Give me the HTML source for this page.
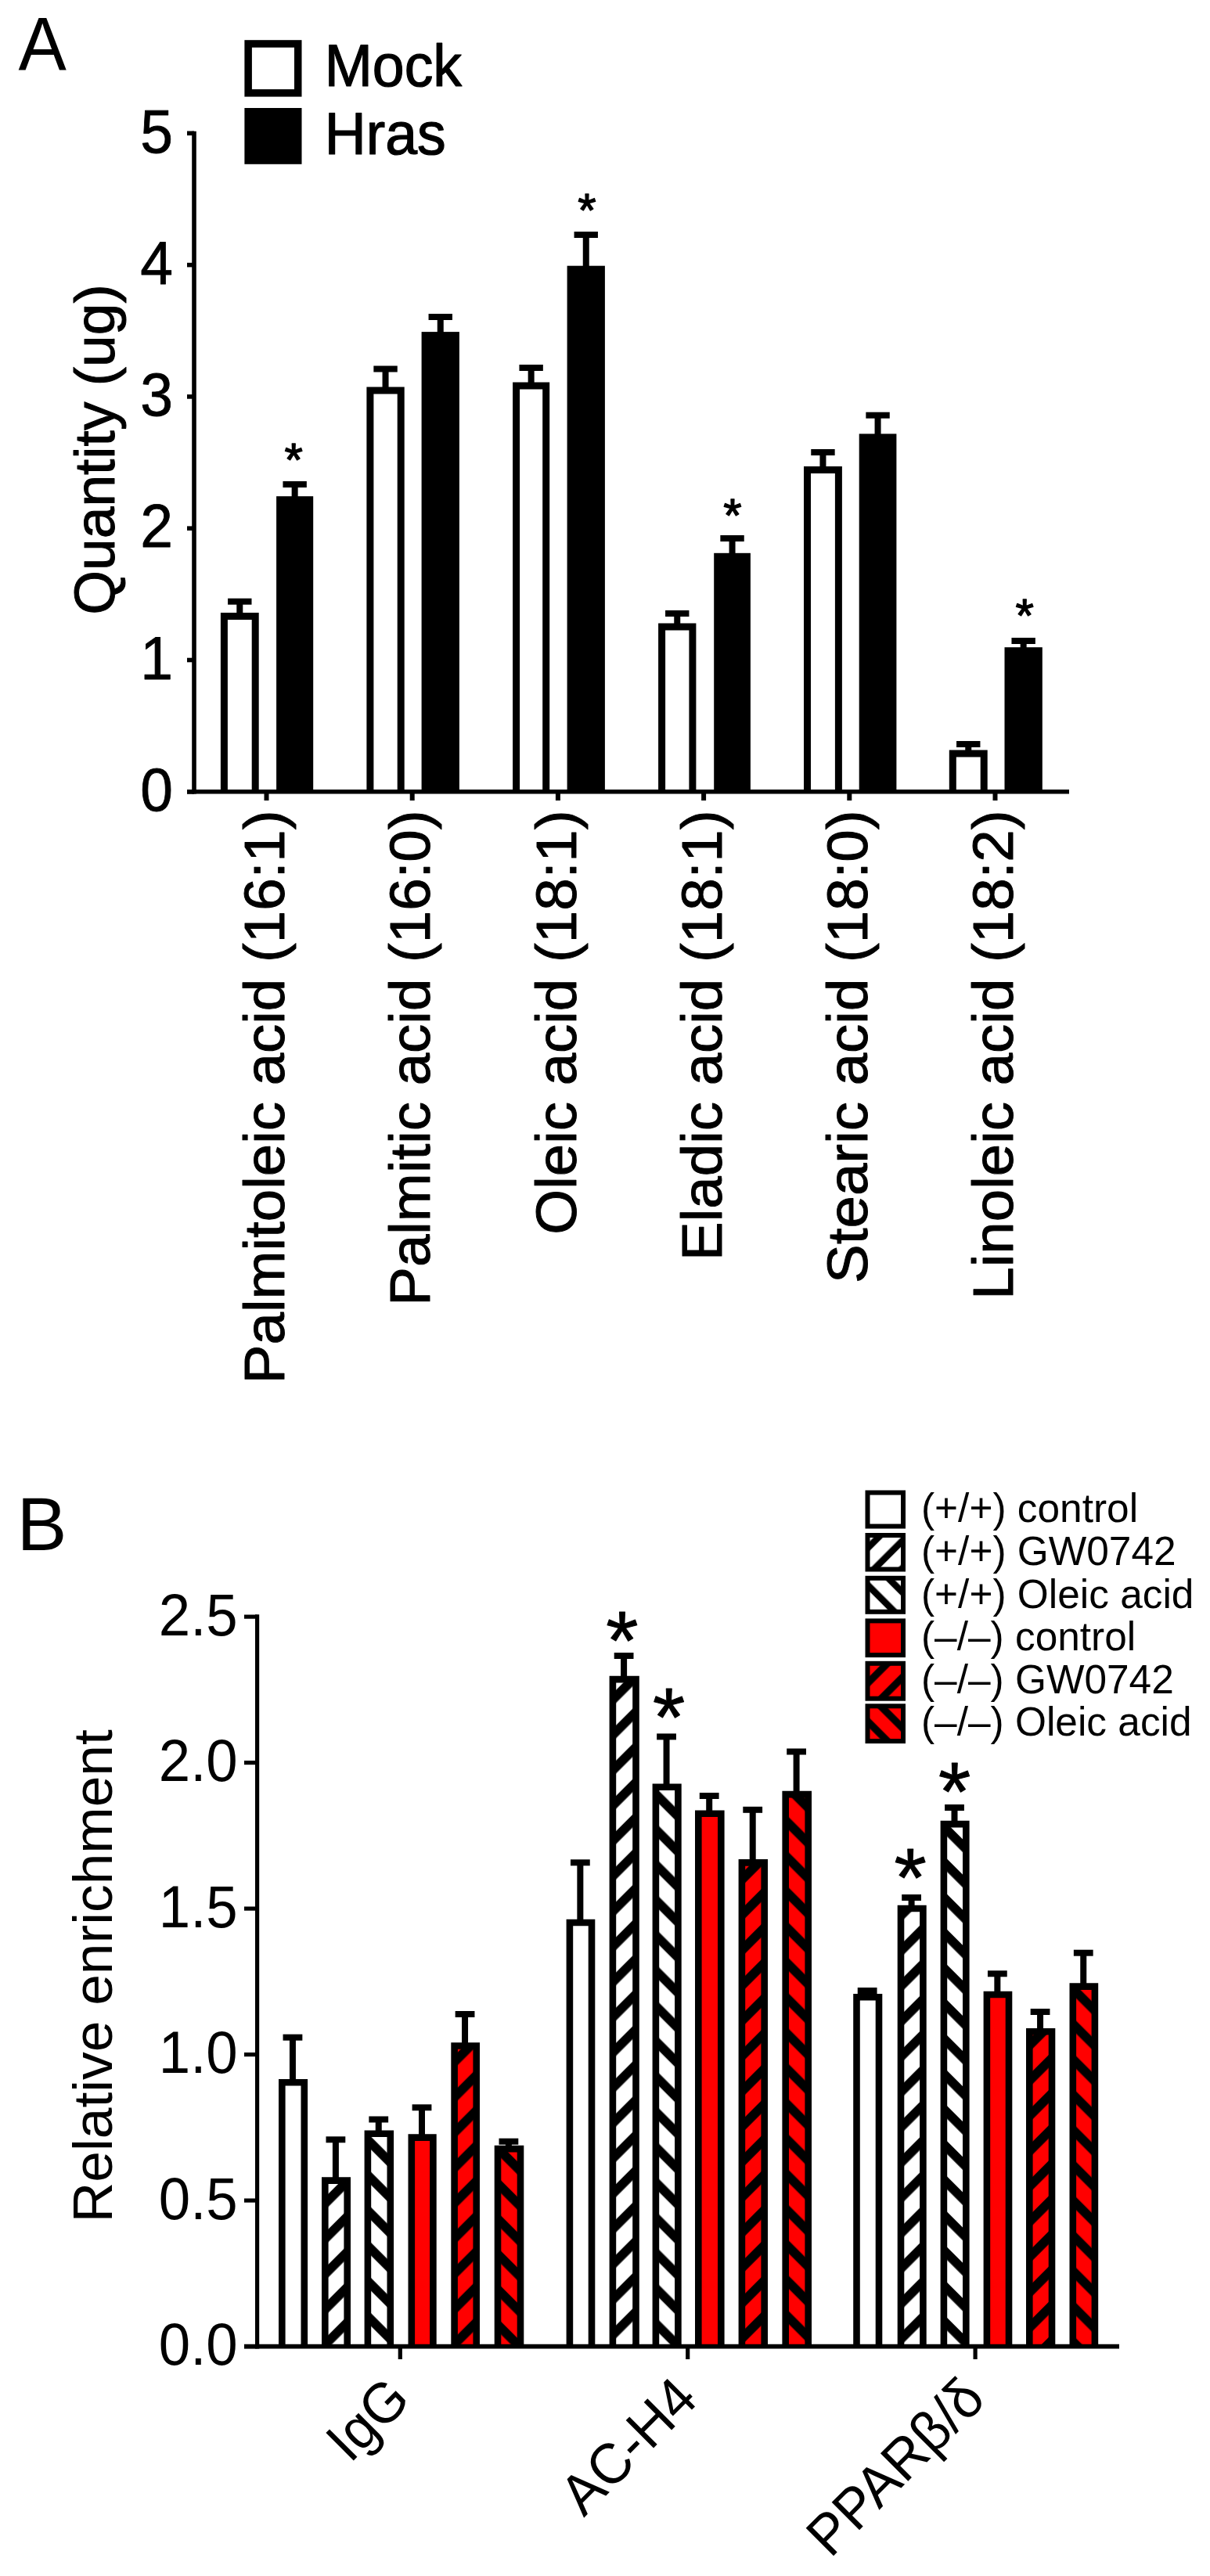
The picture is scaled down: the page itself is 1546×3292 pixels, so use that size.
<!DOCTYPE html><html><head><meta charset="utf-8"><title>Figure</title>
<style>html,body{margin:0;padding:0;background:#fff;}svg{display:block;}text{font-family:"Liberation Sans", Arial, sans-serif;fill:#000;}</style></head><body>
<svg width="1546" height="3292" viewBox="0 0 1546 3292">
<defs>
<pattern id="l2" patternUnits="userSpaceOnUse" width="24.75" height="24.75" patternTransform="rotate(45)"><rect x="0" y="0" width="24.75" height="24.75" fill="#fff"/><rect x="0.57" y="0" width="8.49" height="24.75" fill="#000"/><rect x="-24.18" y="0" width="8.49" height="24.75" fill="#000"/></pattern>
<pattern id="l3" patternUnits="userSpaceOnUse" width="24.75" height="24.75" patternTransform="rotate(-45)"><rect x="0" y="0" width="24.75" height="24.75" fill="#fff"/><rect x="15.7" y="0" width="8.49" height="24.75" fill="#000"/><rect x="-9.05" y="0" width="8.49" height="24.75" fill="#000"/></pattern>
<pattern id="l5" patternUnits="userSpaceOnUse" width="26.16" height="26.16" patternTransform="rotate(45)"><rect x="0" y="0" width="26.16" height="26.16" fill="#f00"/><rect x="24.4" y="0" width="9.19" height="26.16" fill="#000"/><rect x="-1.77" y="0" width="9.19" height="26.16" fill="#000"/></pattern>
<pattern id="l6" patternUnits="userSpaceOnUse" width="25.46" height="25.46" patternTransform="rotate(-45)"><rect x="0" y="0" width="25.46" height="25.46" fill="#f00"/><rect x="13.08" y="0" width="9.19" height="25.46" fill="#000"/><rect x="-12.37" y="0" width="9.19" height="25.46" fill="#000"/></pattern>
</defs>
<text transform="translate(23.6 88.5) scale(1 1.04)" font-size="92" text-anchor="start">A</text>
<rect x="317.15" y="55.95" width="63.6" height="62.9" fill="#fff" stroke="#000" stroke-width="9.5"/>
<rect x="312.4" y="138" width="73.1" height="71.8" fill="#000"/>
<text transform="translate(414.7 109.6) scale(1 1.04)" font-size="73.4" text-anchor="start" stroke="#000" stroke-width="1.2" stroke-linejoin="round">Mock</text>
<text transform="translate(414.8 196.6) scale(1 1.04)" font-size="73.4" text-anchor="start" stroke="#000" stroke-width="1.2" stroke-linejoin="round">Hras</text>
<line x1="248" y1="167.8" x2="248" y2="1014.6" stroke="#000" stroke-width="5.6" stroke-linecap="butt"/>
<line x1="239" y1="1011.8" x2="248" y2="1011.8" stroke="#000" stroke-width="5.6" stroke-linecap="butt"/>
<text transform="translate(221 1036) scale(1 1.04)" font-size="75" text-anchor="end" stroke="#000" stroke-width="0.8" stroke-linejoin="round">0</text>
<line x1="239" y1="843.5" x2="248" y2="843.5" stroke="#000" stroke-width="5.6" stroke-linecap="butt"/>
<text transform="translate(221 867.7) scale(1 1.04)" font-size="75" text-anchor="end" stroke="#000" stroke-width="0.8" stroke-linejoin="round">1</text>
<line x1="239" y1="675.2" x2="248" y2="675.2" stroke="#000" stroke-width="5.6" stroke-linecap="butt"/>
<text transform="translate(221 699.4) scale(1 1.04)" font-size="75" text-anchor="end" stroke="#000" stroke-width="0.8" stroke-linejoin="round">2</text>
<line x1="239" y1="506.9" x2="248" y2="506.9" stroke="#000" stroke-width="5.6" stroke-linecap="butt"/>
<text transform="translate(221 531.1) scale(1 1.04)" font-size="75" text-anchor="end" stroke="#000" stroke-width="0.8" stroke-linejoin="round">3</text>
<line x1="239" y1="338.6" x2="248" y2="338.6" stroke="#000" stroke-width="5.6" stroke-linecap="butt"/>
<text transform="translate(221 362.8) scale(1 1.04)" font-size="75" text-anchor="end" stroke="#000" stroke-width="0.8" stroke-linejoin="round">4</text>
<line x1="239" y1="170.3" x2="248" y2="170.3" stroke="#000" stroke-width="5.6" stroke-linecap="butt"/>
<text transform="translate(221 194.5) scale(1 1.04)" font-size="75" text-anchor="end" stroke="#000" stroke-width="0.8" stroke-linejoin="round">5</text>
<text transform="translate(145.8 574.5) rotate(-90)" font-size="73.1" text-anchor="middle" stroke="#000" stroke-width="1" stroke-linejoin="round">Quantity (ug)</text>
<line x1="306.3" y1="768.7" x2="306.3" y2="787" stroke="#000" stroke-width="8" stroke-linecap="butt"/>
<line x1="291.1" y1="768.7" x2="321.5" y2="768.7" stroke="#000" stroke-width="8" stroke-linecap="butt"/>
<line x1="376.65" y1="619" x2="376.65" y2="638.2" stroke="#000" stroke-width="8" stroke-linecap="butt"/>
<line x1="361.45" y1="619" x2="391.85" y2="619" stroke="#000" stroke-width="8" stroke-linecap="butt"/>
<rect x="286.4" y="787.5" width="39.8" height="224.3" fill="#fff"/>
<path d="M286.4 1011.8V787.5H326.2V1011.8" fill="none" stroke="#000" stroke-width="9" stroke-linejoin="miter"/>
<rect x="353.1" y="634.2" width="47.1" height="377.6" fill="#000"/>
<text transform="translate(375.1 608.08)" font-size="60" text-anchor="middle" stroke="#000" stroke-width="1.4" stroke-linejoin="round">*</text>
<line x1="340.5" y1="1011.8" x2="340.5" y2="1023" stroke="#000" stroke-width="6" stroke-linecap="butt"/>
<text transform="translate(363.2 1035.4) rotate(-90) scale(1 0.98)" font-size="74.5" text-anchor="end" stroke="#000" stroke-width="1" stroke-linejoin="round">Palmitoleic acid (16:1)</text>
<line x1="492.55" y1="471.5" x2="492.55" y2="498.4" stroke="#000" stroke-width="8" stroke-linecap="butt"/>
<line x1="477.35" y1="471.5" x2="507.75" y2="471.5" stroke="#000" stroke-width="8" stroke-linecap="butt"/>
<line x1="562.75" y1="405" x2="562.75" y2="428.1" stroke="#000" stroke-width="8" stroke-linecap="butt"/>
<line x1="547.55" y1="405" x2="577.95" y2="405" stroke="#000" stroke-width="8" stroke-linecap="butt"/>
<rect x="472.9" y="498.9" width="39.3" height="512.9" fill="#fff"/>
<path d="M472.9 1011.8V498.9H512.2V1011.8" fill="none" stroke="#000" stroke-width="9" stroke-linejoin="miter"/>
<rect x="538.6" y="424.1" width="48.3" height="587.7" fill="#000"/>
<line x1="526.7" y1="1011.8" x2="526.7" y2="1023" stroke="#000" stroke-width="6" stroke-linecap="butt"/>
<text transform="translate(549.4 1035.4) rotate(-90) scale(1 0.98)" font-size="74.5" text-anchor="end" stroke="#000" stroke-width="1" stroke-linejoin="round">Palmitic acid (16:0)</text>
<line x1="678.65" y1="470" x2="678.65" y2="492.6" stroke="#000" stroke-width="8" stroke-linecap="butt"/>
<line x1="663.45" y1="470" x2="693.85" y2="470" stroke="#000" stroke-width="8" stroke-linecap="butt"/>
<line x1="748.75" y1="300" x2="748.75" y2="343.7" stroke="#000" stroke-width="8" stroke-linecap="butt"/>
<line x1="733.55" y1="300" x2="763.95" y2="300" stroke="#000" stroke-width="8" stroke-linecap="butt"/>
<rect x="659.6" y="493.1" width="38.1" height="518.7" fill="#fff"/>
<path d="M659.6 1011.8V493.1H697.7V1011.8" fill="none" stroke="#000" stroke-width="9" stroke-linejoin="miter"/>
<rect x="724.6" y="339.7" width="48.3" height="672.1" fill="#000"/>
<text transform="translate(749.8 289.08)" font-size="60" text-anchor="middle" stroke="#000" stroke-width="1.4" stroke-linejoin="round">*</text>
<line x1="712.9" y1="1011.8" x2="712.9" y2="1023" stroke="#000" stroke-width="6" stroke-linecap="butt"/>
<text transform="translate(735.6 1035.4) rotate(-90) scale(1 0.98)" font-size="74.5" text-anchor="end" stroke="#000" stroke-width="1" stroke-linejoin="round">Oleic acid (18:1)</text>
<line x1="865.25" y1="784" x2="865.25" y2="800.5" stroke="#000" stroke-width="8" stroke-linecap="butt"/>
<line x1="850.05" y1="784" x2="880.45" y2="784" stroke="#000" stroke-width="8" stroke-linecap="butt"/>
<line x1="935.55" y1="688" x2="935.55" y2="710.8" stroke="#000" stroke-width="8" stroke-linecap="butt"/>
<line x1="920.35" y1="688" x2="950.75" y2="688" stroke="#000" stroke-width="8" stroke-linecap="butt"/>
<rect x="845.6" y="801" width="39.3" height="210.8" fill="#fff"/>
<path d="M845.6 1011.8V801H884.9V1011.8" fill="none" stroke="#000" stroke-width="9" stroke-linejoin="miter"/>
<rect x="912.2" y="706.8" width="46.7" height="305" fill="#000"/>
<text transform="translate(935.9 679.08)" font-size="60" text-anchor="middle" stroke="#000" stroke-width="1.4" stroke-linejoin="round">*</text>
<line x1="899.1" y1="1011.8" x2="899.1" y2="1023" stroke="#000" stroke-width="6" stroke-linecap="butt"/>
<text transform="translate(921.8 1035.4) rotate(-90) scale(1 0.98)" font-size="74.5" text-anchor="end" stroke="#000" stroke-width="1" stroke-linejoin="round">Eladic acid (18:1)</text>
<line x1="1051.45" y1="578" x2="1051.45" y2="600" stroke="#000" stroke-width="8" stroke-linecap="butt"/>
<line x1="1036.25" y1="578" x2="1066.65" y2="578" stroke="#000" stroke-width="8" stroke-linecap="butt"/>
<line x1="1121.55" y1="530.7" x2="1121.55" y2="558.4" stroke="#000" stroke-width="8" stroke-linecap="butt"/>
<line x1="1106.35" y1="530.7" x2="1136.75" y2="530.7" stroke="#000" stroke-width="8" stroke-linecap="butt"/>
<rect x="1031.5" y="600.5" width="39.9" height="411.3" fill="#fff"/>
<path d="M1031.5 1011.8V600.5H1071.4V1011.8" fill="none" stroke="#000" stroke-width="9" stroke-linejoin="miter"/>
<rect x="1097.7" y="554.4" width="47.7" height="457.4" fill="#000"/>
<line x1="1085.3" y1="1011.8" x2="1085.3" y2="1023" stroke="#000" stroke-width="6" stroke-linecap="butt"/>
<text transform="translate(1108 1035.4) rotate(-90) scale(1 0.98)" font-size="74.5" text-anchor="end" stroke="#000" stroke-width="1" stroke-linejoin="round">Stearic acid (18:0)</text>
<line x1="1237.25" y1="951" x2="1237.25" y2="962.4" stroke="#000" stroke-width="8" stroke-linecap="butt"/>
<line x1="1222.05" y1="951" x2="1252.45" y2="951" stroke="#000" stroke-width="8" stroke-linecap="butt"/>
<line x1="1307.65" y1="819" x2="1307.65" y2="831.2" stroke="#000" stroke-width="8" stroke-linecap="butt"/>
<line x1="1292.45" y1="819" x2="1322.85" y2="819" stroke="#000" stroke-width="8" stroke-linecap="butt"/>
<rect x="1217.3" y="962.9" width="39.9" height="48.9" fill="#fff"/>
<path d="M1217.3 1011.8V962.9H1257.2V1011.8" fill="none" stroke="#000" stroke-width="9" stroke-linejoin="miter"/>
<rect x="1283.5" y="827.2" width="48.3" height="184.6" fill="#000"/>
<text transform="translate(1309.2 807.08)" font-size="60" text-anchor="middle" stroke="#000" stroke-width="1.4" stroke-linejoin="round">*</text>
<line x1="1271.5" y1="1011.8" x2="1271.5" y2="1023" stroke="#000" stroke-width="6" stroke-linecap="butt"/>
<text transform="translate(1294.2 1035.4) rotate(-90) scale(1 0.98)" font-size="74.5" text-anchor="end" stroke="#000" stroke-width="1" stroke-linejoin="round">Linoleic acid (18:2)</text>
<line x1="239" y1="1011.8" x2="1366" y2="1011.8" stroke="#000" stroke-width="5.6" stroke-linecap="butt"/>
<text transform="translate(21.5 1980.6)" font-size="96" text-anchor="start">B</text>
<line x1="328.6" y1="2063.2" x2="328.6" y2="3001.4" stroke="#000" stroke-width="5.2" stroke-linecap="butt"/>
<line x1="312" y1="2998.6" x2="328.6" y2="2998.6" stroke="#000" stroke-width="5.2" stroke-linecap="butt"/>
<text transform="translate(303.7 3022.3) scale(1 1.04)" font-size="72.6" text-anchor="end">0.0</text>
<line x1="312" y1="2812.1" x2="328.6" y2="2812.1" stroke="#000" stroke-width="5.2" stroke-linecap="butt"/>
<text transform="translate(303.7 2835.8) scale(1 1.04)" font-size="72.6" text-anchor="end">0.5</text>
<line x1="312" y1="2625.6" x2="328.6" y2="2625.6" stroke="#000" stroke-width="5.2" stroke-linecap="butt"/>
<text transform="translate(303.7 2649.3) scale(1 1.04)" font-size="72.6" text-anchor="end">1.0</text>
<line x1="312" y1="2439.1" x2="328.6" y2="2439.1" stroke="#000" stroke-width="5.2" stroke-linecap="butt"/>
<text transform="translate(303.7 2462.8) scale(1 1.04)" font-size="72.6" text-anchor="end">1.5</text>
<line x1="312" y1="2252.6" x2="328.6" y2="2252.6" stroke="#000" stroke-width="5.2" stroke-linecap="butt"/>
<text transform="translate(303.7 2276.3) scale(1 1.04)" font-size="72.6" text-anchor="end">2.0</text>
<line x1="312" y1="2066.1" x2="328.6" y2="2066.1" stroke="#000" stroke-width="5.2" stroke-linecap="butt"/>
<text transform="translate(303.7 2089.8) scale(1 1.04)" font-size="72.6" text-anchor="end">2.5</text>
<text transform="translate(142.9 2525.2) rotate(-90)" font-size="71.3" text-anchor="middle">Relative enrichment</text>
<line x1="373.95" y1="2603.7" x2="373.95" y2="2661" stroke="#000" stroke-width="8" stroke-linecap="butt"/>
<line x1="361.55" y1="2603.7" x2="386.35" y2="2603.7" stroke="#000" stroke-width="8" stroke-linecap="butt"/>
<rect x="360.3" y="2661.3" width="28.5" height="337.3" fill="#fff"/>
<path d="M360.3 2998.6V2661.3H388.8V2998.6" fill="none" stroke="#000" stroke-width="8.6" stroke-linejoin="miter"/>
<line x1="428.9" y1="2734.3" x2="428.9" y2="2786.3" stroke="#000" stroke-width="8" stroke-linecap="butt"/>
<line x1="416.5" y1="2734.3" x2="441.3" y2="2734.3" stroke="#000" stroke-width="8" stroke-linecap="butt"/>
<defs>
<pattern id="hb01" patternUnits="userSpaceOnUse" width="31.89" height="31.89" patternTransform="rotate(45)"><rect x="0" y="0" width="31.89" height="31.89" fill="#fff"/><rect x="14.88" y="0" width="11.67" height="31.89" fill="#000"/><rect x="-17.01" y="0" width="11.67" height="31.89" fill="#000"/></pattern>
</defs>
<rect x="415.3" y="2786.6" width="28.4" height="212" fill="url(#hb01)"/>
<path d="M415.3 2998.6V2786.6H443.7V2998.6" fill="none" stroke="#000" stroke-width="8.6" stroke-linejoin="miter"/>
<line x1="483.75" y1="2708.5" x2="483.75" y2="2726.4" stroke="#000" stroke-width="8" stroke-linecap="butt"/>
<line x1="471.35" y1="2708.5" x2="496.15" y2="2708.5" stroke="#000" stroke-width="8" stroke-linecap="butt"/>
<defs>
<pattern id="hb02" patternUnits="userSpaceOnUse" width="31.89" height="31.89" patternTransform="rotate(-45)"><rect x="0" y="0" width="31.89" height="31.89" fill="#fff"/><rect x="19.06" y="0" width="11.67" height="31.89" fill="#000"/><rect x="-12.83" y="0" width="11.67" height="31.89" fill="#000"/></pattern>
</defs>
<rect x="469.9" y="2726.7" width="28.9" height="271.9" fill="url(#hb02)"/>
<path d="M469.9 2998.6V2726.7H498.8V2998.6" fill="none" stroke="#000" stroke-width="8.6" stroke-linejoin="miter"/>
<line x1="539" y1="2693.3" x2="539" y2="2731.3" stroke="#000" stroke-width="8" stroke-linecap="butt"/>
<line x1="526.6" y1="2693.3" x2="551.4" y2="2693.3" stroke="#000" stroke-width="8" stroke-linecap="butt"/>
<rect x="525.8" y="2731.6" width="27.6" height="267" fill="#f00"/>
<path d="M525.8 2998.6V2731.6H553.4V2998.6" fill="none" stroke="#000" stroke-width="8.6" stroke-linejoin="miter"/>
<line x1="594.05" y1="2574" x2="594.05" y2="2614.2" stroke="#000" stroke-width="8" stroke-linecap="butt"/>
<line x1="581.65" y1="2574" x2="606.45" y2="2574" stroke="#000" stroke-width="8" stroke-linecap="butt"/>
<defs>
<pattern id="hb04" patternUnits="userSpaceOnUse" width="31.89" height="31.89" patternTransform="rotate(45)"><rect x="0" y="0" width="31.89" height="31.89" fill="#f00"/><rect x="3.78" y="0" width="11.67" height="31.89" fill="#000"/><rect x="-28.11" y="0" width="11.67" height="31.89" fill="#000"/></pattern>
</defs>
<rect x="580.6" y="2614.5" width="28.1" height="384.1" fill="url(#hb04)"/>
<path d="M580.6 2998.6V2614.5H608.7V2998.6" fill="none" stroke="#000" stroke-width="8.6" stroke-linejoin="miter"/>
<line x1="649.9" y1="2736.7" x2="649.9" y2="2745.8" stroke="#000" stroke-width="8" stroke-linecap="butt"/>
<line x1="637.5" y1="2736.7" x2="662.3" y2="2736.7" stroke="#000" stroke-width="8" stroke-linecap="butt"/>
<defs>
<pattern id="hb05" patternUnits="userSpaceOnUse" width="31.89" height="31.89" patternTransform="rotate(-45)"><rect x="0" y="0" width="31.89" height="31.89" fill="#f00"/><rect x="1.38" y="0" width="11.67" height="31.89" fill="#000"/><rect x="-30.51" y="0" width="11.67" height="31.89" fill="#000"/></pattern>
</defs>
<rect x="636" y="2746.1" width="29" height="252.5" fill="url(#hb05)"/>
<path d="M636 2998.6V2746.1H665V2998.6" fill="none" stroke="#000" stroke-width="8.6" stroke-linejoin="miter"/>
<line x1="511.3" y1="2998.6" x2="511.3" y2="3015" stroke="#000" stroke-width="5.2" stroke-linecap="butt"/>
<text transform="translate(527 3069.3) rotate(-45) scale(1 1.04)" font-size="70" text-anchor="end">IgG</text>
<line x1="741.35" y1="2380.3" x2="741.35" y2="2456.7" stroke="#000" stroke-width="8" stroke-linecap="butt"/>
<line x1="728.95" y1="2380.3" x2="753.75" y2="2380.3" stroke="#000" stroke-width="8" stroke-linecap="butt"/>
<rect x="727.9" y="2457" width="28.1" height="541.6" fill="#fff"/>
<path d="M727.9 2998.6V2457H756V2998.6" fill="none" stroke="#000" stroke-width="8.6" stroke-linejoin="miter"/>
<line x1="797.1" y1="2116" x2="797.1" y2="2145.8" stroke="#000" stroke-width="8" stroke-linecap="butt"/>
<line x1="784.7" y1="2116" x2="809.5" y2="2116" stroke="#000" stroke-width="8" stroke-linecap="butt"/>
<defs>
<pattern id="hb11" patternUnits="userSpaceOnUse" width="31.89" height="31.89" patternTransform="rotate(45)"><rect x="0" y="0" width="31.89" height="31.89" fill="#fff"/><rect x="10.85" y="0" width="11.67" height="31.89" fill="#000"/><rect x="-21.04" y="0" width="11.67" height="31.89" fill="#000"/></pattern>
</defs>
<rect x="782.9" y="2146.1" width="29.6" height="852.5" fill="url(#hb11)"/>
<path d="M782.9 2998.6V2146.1H812.5V2998.6" fill="none" stroke="#000" stroke-width="8.6" stroke-linejoin="miter"/>
<text transform="translate(794.9 2133.43)" font-size="106" text-anchor="middle" stroke="#000" stroke-width="1" stroke-linejoin="round">*</text>
<line x1="851.55" y1="2219.4" x2="851.55" y2="2283.5" stroke="#000" stroke-width="8" stroke-linecap="butt"/>
<line x1="839.15" y1="2219.4" x2="863.95" y2="2219.4" stroke="#000" stroke-width="8" stroke-linecap="butt"/>
<defs>
<pattern id="hb12" patternUnits="userSpaceOnUse" width="31.89" height="31.89" patternTransform="rotate(-45)"><rect x="0" y="0" width="31.89" height="31.89" fill="#fff"/><rect x="17.71" y="0" width="11.67" height="31.89" fill="#000"/><rect x="-14.18" y="0" width="11.67" height="31.89" fill="#000"/></pattern>
</defs>
<rect x="837.9" y="2283.8" width="28.5" height="714.8" fill="url(#hb12)"/>
<path d="M837.9 2998.6V2283.8H866.4V2998.6" fill="none" stroke="#000" stroke-width="8.6" stroke-linejoin="miter"/>
<text transform="translate(854.5 2230.63)" font-size="106" text-anchor="middle" stroke="#000" stroke-width="1" stroke-linejoin="round">*</text>
<line x1="906.2" y1="2295" x2="906.2" y2="2317.4" stroke="#000" stroke-width="8" stroke-linecap="butt"/>
<line x1="893.8" y1="2295" x2="918.6" y2="2295" stroke="#000" stroke-width="8" stroke-linecap="butt"/>
<rect x="892.3" y="2317.7" width="29" height="680.9" fill="#f00"/>
<path d="M892.3 2998.6V2317.7H921.3V2998.6" fill="none" stroke="#000" stroke-width="8.6" stroke-linejoin="miter"/>
<line x1="961.7" y1="2312.8" x2="961.7" y2="2380.1" stroke="#000" stroke-width="8" stroke-linecap="butt"/>
<line x1="949.3" y1="2312.8" x2="974.1" y2="2312.8" stroke="#000" stroke-width="8" stroke-linecap="butt"/>
<defs>
<pattern id="hb14" patternUnits="userSpaceOnUse" width="31.89" height="31.89" patternTransform="rotate(45)"><rect x="0" y="0" width="31.89" height="31.89" fill="#f00"/><rect x="3.08" y="0" width="11.67" height="31.89" fill="#000"/><rect x="-28.81" y="0" width="11.67" height="31.89" fill="#000"/></pattern>
</defs>
<rect x="947.9" y="2380.4" width="28.8" height="618.2" fill="url(#hb14)"/>
<path d="M947.9 2998.6V2380.4H976.7V2998.6" fill="none" stroke="#000" stroke-width="8.6" stroke-linejoin="miter"/>
<line x1="1017.6" y1="2238.5" x2="1017.6" y2="2292.8" stroke="#000" stroke-width="8" stroke-linecap="butt"/>
<line x1="1005.2" y1="2238.5" x2="1030" y2="2238.5" stroke="#000" stroke-width="8" stroke-linecap="butt"/>
<defs>
<pattern id="hb15" patternUnits="userSpaceOnUse" width="31.89" height="31.89" patternTransform="rotate(-45)"><rect x="0" y="0" width="31.89" height="31.89" fill="#f00"/><rect x="15.59" y="0" width="11.67" height="31.89" fill="#000"/><rect x="-16.3" y="0" width="11.67" height="31.89" fill="#000"/></pattern>
</defs>
<rect x="1003.7" y="2293.1" width="29" height="705.5" fill="url(#hb15)"/>
<path d="M1003.7 2998.6V2293.1H1032.7V2998.6" fill="none" stroke="#000" stroke-width="8.6" stroke-linejoin="miter"/>
<line x1="878.7" y1="2998.6" x2="878.7" y2="3015" stroke="#000" stroke-width="5.2" stroke-linecap="butt"/>
<text transform="translate(894.4 3069.3) rotate(-45) scale(1 1.04)" font-size="70" text-anchor="end">AC-H4</text>
<line x1="1108.15" y1="2544" x2="1108.15" y2="2552" stroke="#000" stroke-width="8" stroke-linecap="butt"/>
<line x1="1095.75" y1="2544" x2="1120.55" y2="2544" stroke="#000" stroke-width="8" stroke-linecap="butt"/>
<rect x="1094.5" y="2552.3" width="28.5" height="446.3" fill="#fff"/>
<path d="M1094.5 2998.6V2552.3H1123V2998.6" fill="none" stroke="#000" stroke-width="8.6" stroke-linejoin="miter"/>
<line x1="1164.6" y1="2425" x2="1164.6" y2="2438.7" stroke="#000" stroke-width="8" stroke-linecap="butt"/>
<line x1="1152.2" y1="2425" x2="1177" y2="2425" stroke="#000" stroke-width="8" stroke-linecap="butt"/>
<defs>
<pattern id="hb21" patternUnits="userSpaceOnUse" width="31.89" height="31.89" patternTransform="rotate(45)"><rect x="0" y="0" width="31.89" height="31.89" fill="#fff"/><rect x="19.83" y="0" width="11.67" height="31.89" fill="#000"/><rect x="-12.06" y="0" width="11.67" height="31.89" fill="#000"/></pattern>
</defs>
<rect x="1151" y="2439" width="28.4" height="559.6" fill="url(#hb21)"/>
<path d="M1151 2998.6V2439H1179.4V2998.6" fill="none" stroke="#000" stroke-width="8.6" stroke-linejoin="miter"/>
<text transform="translate(1163 2436.43)" font-size="106" text-anchor="middle" stroke="#000" stroke-width="1" stroke-linejoin="round">*</text>
<line x1="1219.5" y1="2310" x2="1219.5" y2="2330.8" stroke="#000" stroke-width="8" stroke-linecap="butt"/>
<line x1="1207.1" y1="2310" x2="1231.9" y2="2310" stroke="#000" stroke-width="8" stroke-linecap="butt"/>
<defs>
<pattern id="hb22" patternUnits="userSpaceOnUse" width="31.89" height="31.89" patternTransform="rotate(-45)"><rect x="0" y="0" width="31.89" height="31.89" fill="#fff"/><rect x="25.21" y="0" width="11.67" height="31.89" fill="#000"/><rect x="-6.68" y="0" width="11.67" height="31.89" fill="#000"/></pattern>
</defs>
<rect x="1205.9" y="2331.1" width="28.4" height="667.5" fill="url(#hb22)"/>
<path d="M1205.9 2998.6V2331.1H1234.3V2998.6" fill="none" stroke="#000" stroke-width="8.6" stroke-linejoin="miter"/>
<text transform="translate(1219.7 2326.43)" font-size="106" text-anchor="middle" stroke="#000" stroke-width="1" stroke-linejoin="round">*</text>
<line x1="1274.35" y1="2522.3" x2="1274.35" y2="2548.7" stroke="#000" stroke-width="8" stroke-linecap="butt"/>
<line x1="1261.95" y1="2522.3" x2="1286.75" y2="2522.3" stroke="#000" stroke-width="8" stroke-linecap="butt"/>
<rect x="1260.9" y="2549" width="28.1" height="449.6" fill="#f00"/>
<path d="M1260.9 2998.6V2549H1289V2998.6" fill="none" stroke="#000" stroke-width="8.6" stroke-linejoin="miter"/>
<line x1="1329.05" y1="2571" x2="1329.05" y2="2596" stroke="#000" stroke-width="8" stroke-linecap="butt"/>
<line x1="1316.65" y1="2571" x2="1341.45" y2="2571" stroke="#000" stroke-width="8" stroke-linecap="butt"/>
<defs>
<pattern id="hb24" patternUnits="userSpaceOnUse" width="31.89" height="31.89" patternTransform="rotate(45)"><rect x="0" y="0" width="31.89" height="31.89" fill="#f00"/><rect x="29.95" y="0" width="11.67" height="31.89" fill="#000"/><rect x="-1.94" y="0" width="11.67" height="31.89" fill="#000"/></pattern>
</defs>
<rect x="1315.3" y="2596.3" width="28.7" height="402.3" fill="url(#hb24)"/>
<path d="M1315.3 2998.6V2596.3H1344V2998.6" fill="none" stroke="#000" stroke-width="8.6" stroke-linejoin="miter"/>
<line x1="1384.25" y1="2495.7" x2="1384.25" y2="2538.3" stroke="#000" stroke-width="8" stroke-linecap="butt"/>
<line x1="1371.85" y1="2495.7" x2="1396.65" y2="2495.7" stroke="#000" stroke-width="8" stroke-linecap="butt"/>
<defs>
<pattern id="hb25" patternUnits="userSpaceOnUse" width="31.89" height="31.89" patternTransform="rotate(-45)"><rect x="0" y="0" width="31.89" height="31.89" fill="#f00"/><rect x="27.47" y="0" width="11.67" height="31.89" fill="#000"/><rect x="-4.42" y="0" width="11.67" height="31.89" fill="#000"/></pattern>
</defs>
<rect x="1370.8" y="2538.6" width="28.1" height="460" fill="url(#hb25)"/>
<path d="M1370.8 2998.6V2538.6H1398.9V2998.6" fill="none" stroke="#000" stroke-width="8.6" stroke-linejoin="miter"/>
<line x1="1246.1" y1="2998.6" x2="1246.1" y2="3015" stroke="#000" stroke-width="5.2" stroke-linecap="butt"/>
<text transform="translate(1261.8 3069.3) rotate(-45) scale(1 1.04)" font-size="70" text-anchor="end">PPAR&#946;/&#948;</text>
<line x1="312" y1="2998.6" x2="1430" y2="2998.6" stroke="#000" stroke-width="5.6" stroke-linecap="butt"/>
<rect x="1108.5" y="1907.5" width="45.5" height="43" fill="#fff" stroke="#000" stroke-width="6"/>
<text transform="translate(1177 1945.45) scale(1 1.02)" font-size="51.4" text-anchor="start">(+/+) control</text>
<rect x="1108.5" y="1962" width="45.5" height="43.5" fill="url(#l2)" stroke="#000" stroke-width="6"/>
<text transform="translate(1177 2000.05) scale(1 1.02)" font-size="51.4" text-anchor="start">(+/+) GW0742</text>
<rect x="1108.5" y="2016.8" width="45.5" height="43" fill="url(#l3)" stroke="#000" stroke-width="6"/>
<text transform="translate(1177 2054.65) scale(1 1.02)" font-size="51.4" text-anchor="start">(+/+) Oleic acid</text>
<rect x="1108.5" y="2071.4" width="45.5" height="43.7" fill="#f00" stroke="#000" stroke-width="6"/>
<text transform="translate(1177 2109.25) scale(1 1.02)" font-size="51.4" text-anchor="start">(&#8211;/&#8211;) control</text>
<rect x="1108.5" y="2125.8" width="45.5" height="44.9" fill="url(#l5)" stroke="#000" stroke-width="6"/>
<text transform="translate(1177 2163.85) scale(1 1.02)" font-size="51.4" text-anchor="start">(&#8211;/&#8211;) GW0742</text>
<rect x="1108.5" y="2180.3" width="45.5" height="44.8" fill="url(#l6)" stroke="#000" stroke-width="6"/>
<text transform="translate(1177 2218.45) scale(1 1.02)" font-size="51.4" text-anchor="start">(&#8211;/&#8211;) Oleic acid</text>
</svg></body></html>
